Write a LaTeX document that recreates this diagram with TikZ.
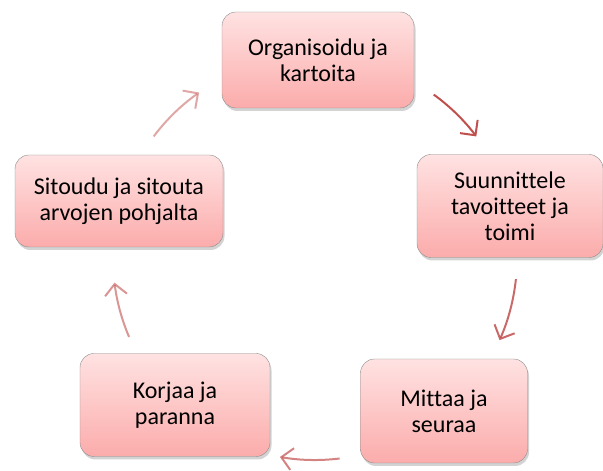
\documentclass[tikz,border=0pt]{standalone}
\usepackage{fontspec}
\setmainfont[Ligatures=NoCommon]{Carlito}
\usetikzlibrary{arrows.meta,shadows}
\definecolor{boxtop}{RGB}{255,226,226}
\definecolor{boxbottom}{RGB}{251,172,171}
\definecolor{cyclered}{RGB}{192,80,77}
\begin{document}
\begin{tikzpicture}[x=1pt,y=1pt,
   stage/.style={draw=black!45,rounded corners=14pt,top color=boxtop,bottom color=boxbottom,
     align=center,font=\fontsize{24}{26}\selectfont,inner sep=4pt,
     drop shadow={opacity=0.35,shadow xshift=1.5pt,shadow yshift=-3pt}},
   cyclearrow/.style={cyclered,line width=2pt,-{Straight Barb[length=11pt,width=22pt]}}]
  \useasboundingbox (0,0) rectangle (603,471);
  \coordinate (hub) at (315,213);
  \node[stage,minimum width=192pt,minimum height=96pt]  (org) at (318,411) {Organisoidu ja\\kartoita};
  \node[stage,minimum width=186pt,minimum height=103pt] (suu) at (510,265) {Suunnittele\\tavoitteet ja\\toimi};
  \node[stage,minimum width=167pt,minimum height=104pt] (mit) at (444,60)  {Mittaa ja\\seuraa};
  \node[stage,minimum width=190pt,minimum height=103pt] (kor) at (175,66)  {Korjaa ja\\paranna};
  \node[stage,minimum width=208pt,minimum height=92pt]  (sit) at (119,270) {Sitoudu ja sitouta\\arvojen pohjalta};
  % arrows run round the hub
  \foreach \from/\to/\op in {54/37/1,-6/-24/0.85,-83/-100/0.7,203/187/0.6,143/125/0.5}
    \draw[cyclearrow,opacity=\op] (hub) ++(\from:202) arc[start angle=\from,end angle=\to,radius=202];
\end{tikzpicture}
\end{document}
